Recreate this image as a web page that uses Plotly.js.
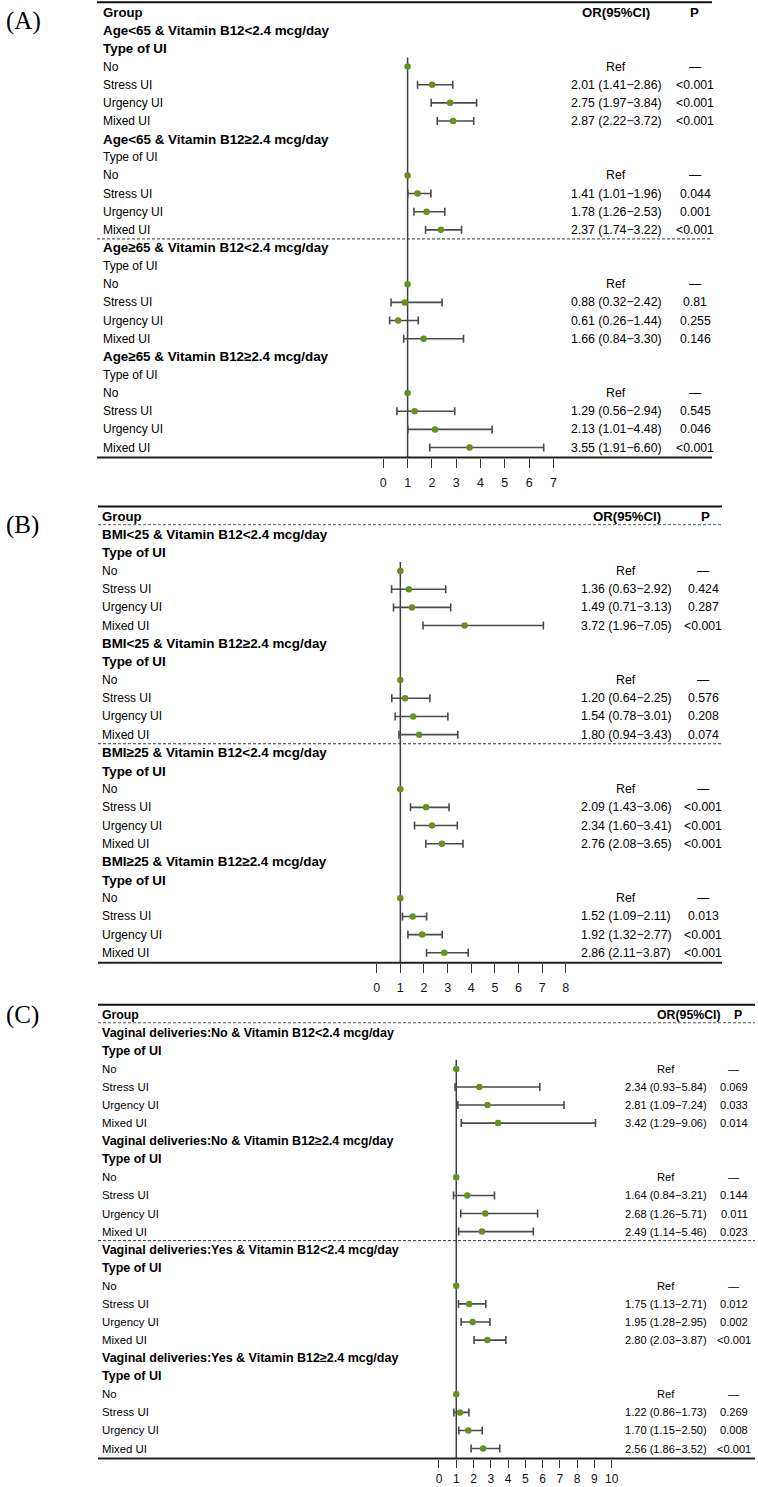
<!DOCTYPE html>
<html><head><meta charset="utf-8">
<script src="https://cdn.plot.ly/plotly-3.0.1.min.js"></script>
<style>html,body{margin:0;padding:0;background:#fff}</style>
</head><body><div id="chart" style="width:758px;height:1487px"></div>
<script>
// ---------------- DATA ----------------
const uiTypes = ["No", "Stress UI", "Urgency UI", "Mixed UI"];

const aGroups = ["Age<65 & Vitamin B12<2.4 mcg/day", "Age<65 & Vitamin B12≥2.4 mcg/day",
                 "Age≥65 & Vitamin B12<2.4 mcg/day", "Age≥65 & Vitamin B12≥2.4 mcg/day"];
const aOR   = [1, 2.01, 2.75, 2.87,  1, 1.41, 1.78, 2.37,  1, 0.88, 0.61, 1.66,  1, 1.29, 2.13, 3.55];
const aLow  = [null, 1.41, 1.97, 2.22,  null, 1.01, 1.26, 1.74,  null, 0.32, 0.26, 0.84,  null, 0.56, 1.01, 1.91];
const aHigh = [null, 2.86, 3.84, 3.72,  null, 1.96, 2.53, 3.22,  null, 2.42, 1.44, 3.30,  null, 2.94, 4.48, 6.60];
const aP    = ["—", "<0.001", "<0.001", "<0.001",  "—", "0.044", "0.001", "<0.001",
               "—", "0.81", "0.255", "0.146",  "—", "0.545", "0.046", "<0.001"];
const aTypeBold = [true, false, false, false];
const aTicks = [0, 1, 2, 3, 4, 5, 6, 7];

const bGroups = ["BMI<25 & Vitamin B12<2.4 mcg/day", "BMI<25 & Vitamin B12≥2.4 mcg/day",
                 "BMI≥25 & Vitamin B12<2.4 mcg/day", "BMI≥25 & Vitamin B12≥2.4 mcg/day"];
const bOR   = [1, 1.36, 1.49, 3.72,  1, 1.20, 1.54, 1.80,  1, 2.09, 2.34, 2.76,  1, 1.52, 1.92, 2.86];
const bLow  = [null, 0.63, 0.71, 1.96,  null, 0.64, 0.78, 0.94,  null, 1.43, 1.60, 2.08,  null, 1.09, 1.32, 2.11];
const bHigh = [null, 2.92, 3.13, 7.05,  null, 2.25, 3.01, 3.43,  null, 3.06, 3.41, 3.65,  null, 2.11, 2.77, 3.87];
const bP    = ["—", "0.424", "0.287", "<0.001",  "—", "0.576", "0.208", "0.074",
               "—", "<0.001", "<0.001", "<0.001",  "—", "0.013", "<0.001", "<0.001"];
const bTypeBold = [true, true, true, true];
const bTicks = [0, 1, 2, 3, 4, 5, 6, 7, 8];

const cGroups = ["Vaginal deliveries:No & Vitamin B12<2.4 mcg/day", "Vaginal deliveries:No & Vitamin B12≥2.4 mcg/day",
                 "Vaginal deliveries:Yes & Vitamin B12<2.4 mcg/day", "Vaginal deliveries:Yes & Vitamin B12≥2.4 mcg/day"];
const cOR   = [1, 2.34, 2.81, 3.42,  1, 1.64, 2.68, 2.49,  1, 1.75, 1.95, 2.80,  1, 1.22, 1.70, 2.56];
const cLow  = [null, 0.93, 1.09, 1.29,  null, 0.84, 1.26, 1.14,  null, 1.13, 1.28, 2.03,  null, 0.86, 1.15, 1.86];
const cHigh = [null, 5.84, 7.24, 9.06,  null, 3.21, 5.71, 5.46,  null, 2.71, 2.95, 3.87,  null, 1.73, 2.50, 3.52];
const cP    = ["—", "0.069", "0.033", "0.014",  "—", "0.144", "0.011", "0.023",
               "—", "0.012", "0.002", "<0.001",  "—", "0.269", "0.008", "<0.001"];
const cTypeBold = [true, true, true, true];
const cTicks = [0, 1, 2, 3, 4, 5, 6, 7, 8, 9, 10];

const panelLabels = ["(A)", "(B)", "(C)"];
const headerTexts = ["Group", "OR(95%CI)", "P"];
const typeHeader = "Type of UI";

// ---------------- LAYOUT CONFIG (pixels) ----------------
const W = 758, H = 1487;
const cfg = [
  {top: 2.2, bottom: 457.5, x0: 383.3, unit: 24.3, xmin: -0.6, xmax: 7.4, left: 97, right: 712,
   textX: 101, orX: 616, orHdrX: 616, pX: 695, pHdrX: 694, labelY: 21, groupDash: false,
   fsReg: 12, fsVal: 12.3, fsBold: 13.4, fsHdr: 13.2, fsTick: 12.5, standoff: 4, ticklen: 9},
  {top: 506.5, bottom: 962.8, x0: 376.7, unit: 23.64, xmin: -0.6, xmax: 8.4, left: 98, right: 722,
   textX: 100, orX: 626, orHdrX: 627, pX: 703, pHdrX: 705, labelY: 525, groupDash: true,
   fsReg: 12, fsVal: 12.3, fsBold: 13.4, fsHdr: 13.2, fsTick: 12.5, standoff: 4, ticklen: 9},
  {top: 1004.7, bottom: 1458.5, x0: 439, unit: 17.27, xmin: -0.6, xmax: 10.4, left: 98, right: 755,
   textX: 100, orX: 666, orHdrX: 689, pX: 734, pHdrX: 738, labelY: 1015, groupDash: true,
   fsReg: 11.4, fsVal: 11.1, fsBold: 12.5, fsHdr: 12.3, fsTick: 12, standoff: 1, ticklen: 8}
];
const panels = [
  {groups: aGroups, or: aOR, low: aLow, high: aHigh, p: aP, typeBold: aTypeBold, ticks: aTicks},
  {groups: bGroups, or: bOR, low: bLow, high: bHigh, p: bP, typeBold: bTypeBold, ticks: bTicks},
  {groups: cGroups, or: cOR, low: cLow, high: cHigh, p: cP, typeBold: cTypeBold, ticks: cTicks}
];

const FONT = '"Liberation Sans", Arial, sans-serif';
const SERIF = '"Liberation Serif", "Times New Roman", serif';
const DOT = '#6b8e23', BAR = '#4a4a4a', LINE = '#404040';
const ROW_MIN = -0.55, ROW_MAX = 24.55;

function esc(s) { return s.replace(/&/g, '&amp;').replace(/</g, '&lt;').replace(/>/g, '&gt;'); }

const traces = [], annotations = [], shapes = [];
const layout = {
  width: W, height: H, margin: {l: 0, r: 0, t: 0, b: 0},
  paper_bgcolor: '#fff', plot_bgcolor: 'rgba(0,0,0,0)', showlegend: false,
  font: {family: FONT, color: '#000'}
};

panels.forEach((P, i) => {
  const L = cfg[i];
  const sfx = i === 0 ? '' : String(i + 1);
  const xa = 'x' + sfx, ya = 'y' + sfx;
  const xDom = [(L.x0 + L.xmin * L.unit) / W, (L.x0 + L.xmax * L.unit) / W];
  const yDom = [1 - L.bottom / H, 1 - L.top / H];
  layout['xaxis' + sfx] = {
    domain: xDom, range: [L.xmin, L.xmax], anchor: ya, fixedrange: true,
    showgrid: false, zeroline: false, showline: false,
    tickmode: 'array', tickvals: P.ticks, ticktext: P.ticks.map(String),
    ticks: 'outside', ticklen: L.ticklen, tickwidth: 1, tickcolor: '#333',
    ticklabelstandoff: L.standoff,
    tickfont: {family: FONT, size: L.fsTick, color: '#111'}
  };
  layout['yaxis' + sfx] = {
    domain: yDom, range: [ROW_MAX, ROW_MIN], anchor: xa, visible: false, fixedrange: true
  };

  function txt(px, row, text, bold, anchor, size) {
    annotations.push({
      xref: 'paper', yref: ya, x: px / W, y: row, text: text, showarrow: false,
      xanchor: anchor, yanchor: 'middle',
      font: {family: FONT, size: size, color: '#000', weight: bold ? 'bold' : 'normal'}
    });
  }

  // headers
  txt(L.textX, 0, headerTexts[0], true, 'left', L.fsHdr);
  txt(L.orHdrX, 0, headerTexts[1], true, 'center', L.fsHdr);
  txt(L.pHdrX, 0, headerTexts[2], true, 'center', L.fsHdr);

  const ciX = [], ciY = [], ePlus = [], eMinus = [], refX = [], refY = [];
  P.groups.forEach((g, gi) => {
    const base = 1 + 6 * gi;
    txt(L.textX, base, esc(g), true, 'left', L.fsBold);
    txt(L.textX, base + 1, typeHeader, P.typeBold[gi], 'left', P.typeBold[gi] ? L.fsBold : L.fsReg);
    uiTypes.forEach((t, ti) => {
      const k = gi * 4 + ti, row = base + 2 + ti;
      txt(L.textX, row, t, false, 'left', L.fsReg);
      const isRef = P.low[k] === null;
      const orTxt = isRef ? 'Ref'
        : P.or[k].toFixed(2) + ' (' + P.low[k].toFixed(2) + '−' + P.high[k].toFixed(2) + ')';
      txt(L.orX, row, orTxt, false, 'center', L.fsVal);
      txt(L.pX, row, esc(P.p[k]), false, 'center', L.fsVal);
      if (isRef) { refX.push(P.or[k]); refY.push(row); }
      else {
        ciX.push(P.or[k]); ciY.push(row);
        ePlus.push(P.high[k] - P.or[k]); eMinus.push(P.or[k] - P.low[k]);
      }
    });
  });

  traces.push({
    type: 'scatter', mode: 'markers', x: ciX, y: ciY, xaxis: xa, yaxis: ya, hoverinfo: 'skip',
    marker: {color: DOT, size: 6.5},
    error_x: {type: 'data', symmetric: false, array: ePlus, arrayminus: eMinus,
              color: BAR, thickness: 1.6, width: 4}
  });
  traces.push({
    type: 'scatter', mode: 'markers', x: refX, y: refY, xaxis: xa, yaxis: ya, hoverinfo: 'skip',
    marker: {color: DOT, size: 6.5}
  });

  // lines
  shapes.push({type: 'line', xref: 'paper', yref: ya + ' domain', x0: L.left / W, x1: L.right / W, y0: 1, y1: 1,
               line: {color: '#111', width: 2}});
  shapes.push({type: 'line', xref: 'paper', yref: ya + ' domain', x0: L.left / W, x1: L.right / W, y0: 0, y1: 0,
               line: {color: '#222', width: 2}});
  shapes.push({type: 'line', xref: 'paper', yref: ya, x0: L.left / W, x1: L.right / W, y0: 12.5, y1: 12.5,
               line: {color: '#333', width: 1, dash: '3px,2px'}});
  if (L.groupDash) {
    shapes.push({type: 'line', xref: 'paper', yref: ya, x0: L.left / W, x1: L.right / W, y0: 0.45, y1: 0.45,
                 line: {color: '#555', width: 1, dash: '3px,2px'}});
  }
  shapes.push({type: 'line', xref: xa, yref: ya, x0: 1, x1: 1, y0: 2.5, y1: ROW_MAX,
               line: {color: LINE, width: 1.5}, layer: 'below'});

  annotations.push({
    xref: 'paper', yref: 'paper', x: 4 / W, y: 1 - L.labelY / H, text: panelLabels[i], showarrow: false,
    xanchor: 'left', yanchor: 'middle', font: {family: SERIF, size: 25, color: '#000'}
  });
});

layout.annotations = annotations;
layout.shapes = shapes;
Plotly.newPlot('chart', traces, layout, {staticPlot: true, displayModeBar: false});
</script>
</body></html>
